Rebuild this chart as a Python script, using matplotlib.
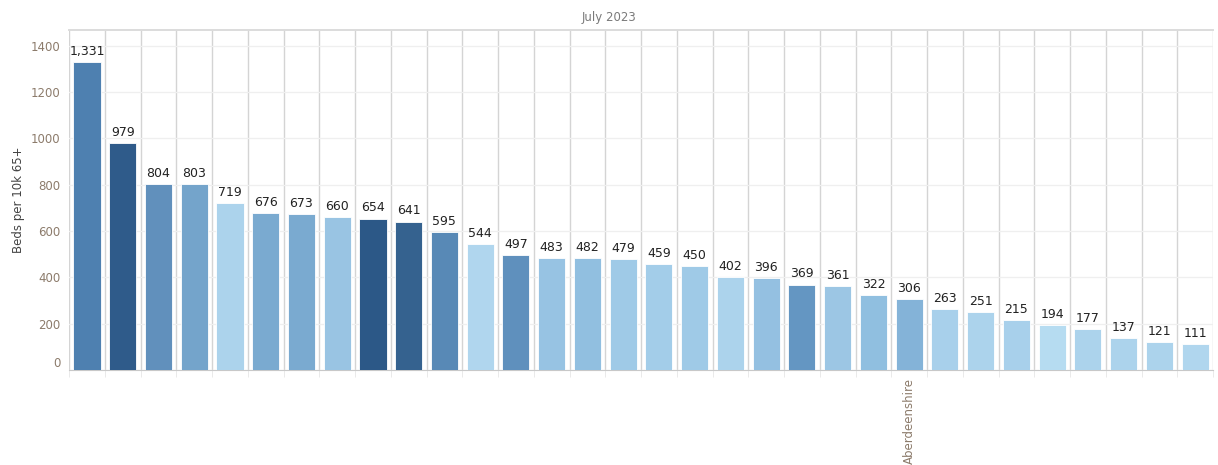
import matplotlib.pyplot as plt
import numpy as np

values = [1331, 979, 804, 803, 719, 676, 673, 660, 654, 641, 595, 544, 497, 483,
          482, 479, 459, 450, 402, 396, 369, 361, 322, 306, 263, 251, 215, 194,
          177, 137, 121, 111]
labels = [""] * len(values)
labels[23] = "Aberdeenshire"
colors = ["#4e80b0", "#2f5b8a", "#6190bc", "#74a4cb", "#acd3ec", "#7aaad0",
          "#7aaad0", "#99c4e3", "#2c5887", "#35628f", "#5889b6", "#b0d6ee",
          "#5f90bd", "#97c3e3", "#91bfe0", "#9fcae7", "#a3cde9", "#9fcae7",
          "#acd3ec", "#94c0e1", "#6496c2", "#9cc6e4", "#90bfe0", "#84b3d8",
          "#a8d0eb", "#acd3ec", "#a8d0eb", "#b6dcf1", "#acd3ec", "#acd3ec",
          "#acd3ec", "#b0d6ee"]

fig = plt.figure(figsize=(12.18, 4.65), dpi=100)
ax = fig.add_axes([0.0567, 0.2043, 0.9392, 0.7312])

x = np.arange(len(values))
ax.bar(x, values, width=0.76, color=colors, edgecolor="white", linewidth=0.6, zorder=3)

for xi, v in zip(x, values):
    ax.annotate(f"{v:,}", (xi, v), xytext=(0, 3), textcoords="offset points",
                ha="center", va="bottom", fontsize=9, fontweight="medium",
                color="#222222", zorder=4)

ax.set_xlim(-0.5, len(values) - 0.5)
ax.set_ylim(0, 1468)

# separators between bars
for b in np.arange(-0.5, len(values), 1.0):
    ax.axvline(b, color="#d4d4d4", lw=1.0, zorder=1)

ax.set_yticks(range(0, 1401, 200))
ax.yaxis.grid(True, color="#efefef", lw=0.9, zorder=0)
ax.tick_params(axis="y", length=0, labelsize=8.5, labelcolor="#8c7b6b", pad=6)
ylab = ax.get_yticklabels()
ylab[0].set_va("bottom")

ax.set_xticks(x)
ax.set_xticklabels(labels, rotation=90, fontsize=8.5, color="#8c7b6b")
ax.tick_params(axis="x", length=0, pad=6)
ax.set_xticks(np.arange(-0.5, len(values), 1.0), minor=True)
ax.tick_params(axis="x", which="minor", length=5, color="#e6e6e6")

for s in ["left", "right"]:
    ax.spines[s].set_visible(False)
ax.spines["bottom"].set_color("#c8c8c8")
ax.spines["top"].set_color("#dcdcdc")
ax.spines["top"].set_linewidth(1.4)

ax.set_ylabel("Beds per 10k 65+", fontsize=8.5, color="#444444", labelpad=4)
fig.text(0.5, 0.962, "July 2023", ha="center", va="center", fontsize=8.5, color="#7a7a7a")

fig.savefig("out.png", dpi=100, facecolor="white")
